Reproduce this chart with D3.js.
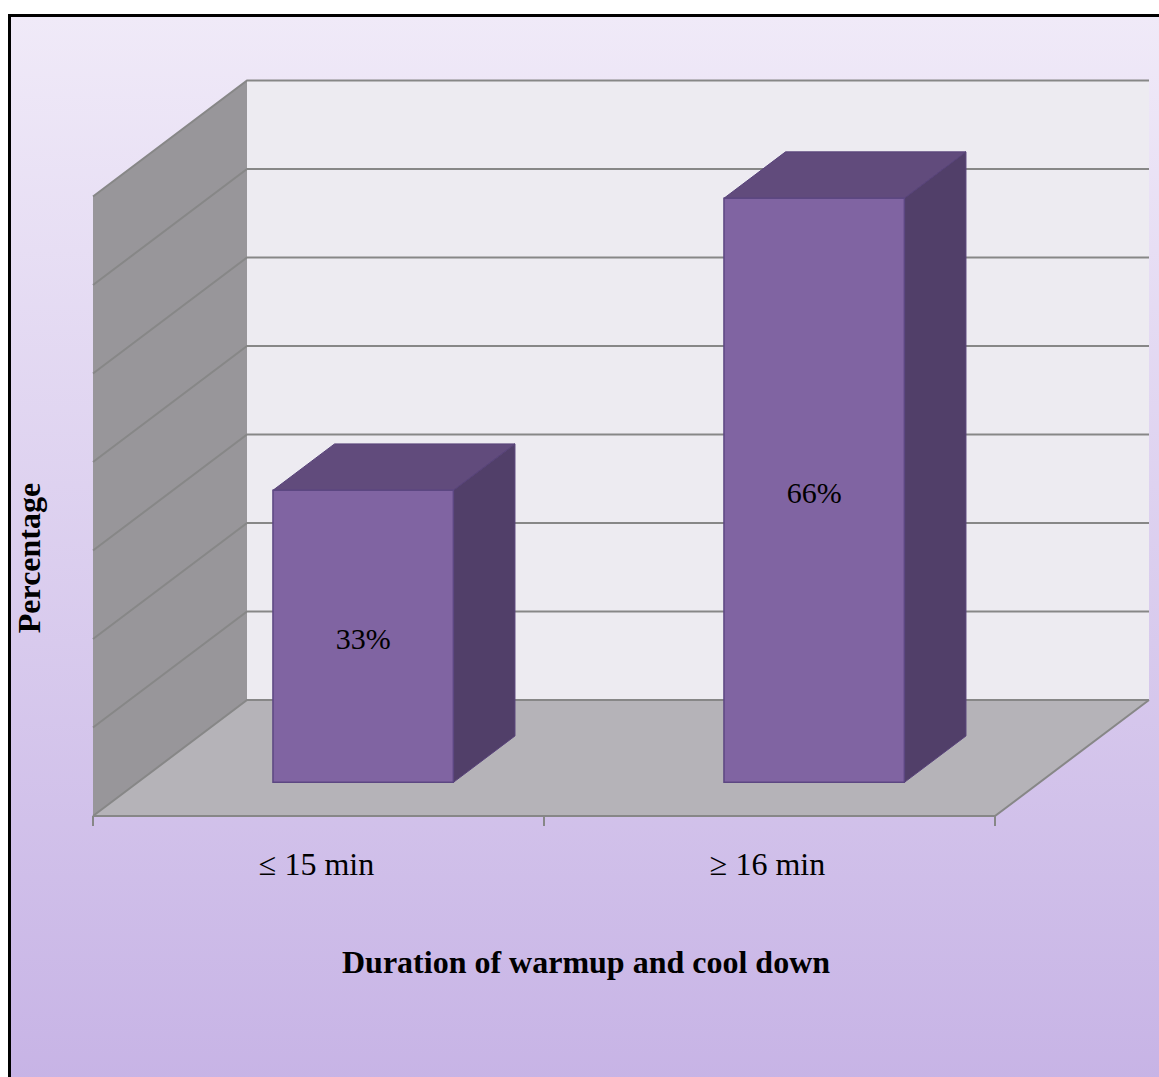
<!DOCTYPE html>
<html>
<head>
<meta charset="utf-8">
<script src="https://cdn.jsdelivr.net/npm/d3@7"></script>
<style>
  html, body { margin: 0; padding: 0; background: #ffffff; }
  svg { display: block; }
</style>
</head>
<body>
<script>
// Chart data
const categories = ["\u2264 15 min", "\u2265 16 min"];
const values = [33, 66];
const valueLabels = ["33%", "66%"];
const valueTicks = [0, 10, 20, 30, 40, 50, 60, 70];
const xTitle = "Duration of warmup and cool down";
const yTitle = "Percentage";

const W = 1159, H = 1077;

// Oblique projection: front plane scales plus a depth vector
const DEPTH = [154, -116];
const x = d3.scaleBand().domain(categories).range([93, 995])
  .paddingInner(0.6).paddingOuter(0.3);
const y = d3.scaleLinear().domain([0, 70]).range([816, 196.5]);
const zFront = 0.29, zBack = 0.69;
const P = (px, v, z) => [px + z * DEPTH[0], y(v) + z * DEPTH[1]];
const poly = pts => "M" + pts.map(p => p.join(",")).join("L") + "Z";

const svg = d3.select("body").append("svg")
  .attr("width", W).attr("height", H);

const defs = svg.append("defs");
const bg = defs.append("linearGradient").attr("id", "bg")
  .attr("x1", 0).attr("y1", 0).attr("x2", 0).attr("y2", 1);
bg.append("stop").attr("offset", 0).attr("stop-color", "#f0eaf8");
bg.append("stop").attr("offset", 1).attr("stop-color", "#c6b2e5");

// Chart area with border
svg.append("rect")
  .attr("x", 9.5).attr("y", 15.5)
  .attr("width", W + 20).attr("height", H + 20)
  .attr("fill", "url(#bg)")
  .attr("stroke", "#000").attr("stroke-width", 3);

const [x0, x1] = x.range();
const vMin = y.domain()[0], vMax = y.domain()[1];

// Back wall
svg.append("path")
  .attr("d", poly([P(x0, vMax, 1), P(x1, vMax, 1), P(x1, vMin, 1), P(x0, vMin, 1)]))
  .attr("fill", "#edebf1");

// Side wall
svg.append("path")
  .attr("d", poly([P(x0, vMax, 1), P(x0, vMin, 1), P(x0, vMin, 0), P(x0, vMax, 0)]))
  .attr("fill", "#98969a");

// Floor
svg.append("path")
  .attr("d", poly([P(x0, vMin, 1), P(x1, vMin, 1), P(x1, vMin, 0), P(x0, vMin, 0)]))
  .attr("fill", "#b5b3b8");

// Gridlines on back wall and side wall
const grid = svg.append("g").attr("stroke", "#878787").attr("stroke-width", 2)
  .attr("fill", "none");
valueTicks.forEach(v => {
  grid.append("path").attr("d", "M" + [P(x0, v, 0), P(x0, v, 1), P(x1, v, 1)].map(p => p.join(",")).join("L"));
});

// Floor edges
grid.append("path").attr("d", "M" + [P(x0, vMin, 0), P(x1, vMin, 0), P(x1, vMin, 1)].map(p => p.join(",")).join("L"));

// Category tick marks between bands
const step = x.step();
const tickXs = d3.range(categories.length + 1).map(i => x0 + i * step);
svg.append("g").selectAll("line").data(tickXs).join("line")
  .attr("x1", d => d).attr("x2", d => d)
  .attr("y1", y(vMin)).attr("y2", y(vMin) + 10)
  .attr("stroke", "#878787").attr("stroke-width", 2);

// Bars
const bars = svg.append("g").selectAll("g").data(values).join("g");
bars.each(function (v, i) {
  const g = d3.select(this);
  const l = x(categories[i]), r = l + x.bandwidth();
  // top face
  g.append("path")
    .attr("d", poly([P(l, v, zFront), P(l, v, zBack), P(r, v, zBack), P(r, v, zFront)]))
    .attr("fill", "#614b7c").attr("stroke", "#58437a").attr("stroke-width", 1);
  // right side face
  g.append("path")
    .attr("d", poly([P(r, v, zFront), P(r, v, zBack), P(r, 0, zBack), P(r, 0, zFront)]))
    .attr("fill", "#513f69").attr("stroke", "#58437a").attr("stroke-width", 1);
  // front face
  g.append("path")
    .attr("d", poly([P(l, v, zFront), P(r, v, zFront), P(r, 0, zFront), P(l, 0, zFront)]))
    .attr("fill", "#8064a2").attr("stroke", "#5c4782").attr("stroke-width", 1.5);
  // value label centred on the front face
  const c = P(l + x.bandwidth() / 2, v / 2, zFront);
  g.append("text")
    .attr("x", c[0]).attr("y", c[1] + 2)
    .attr("dy", "0.35em")
    .attr("text-anchor", "middle")
    .attr("font-family", "'Liberation Serif', 'Times New Roman', serif")
    .attr("font-size", 30)
    .attr("fill", "#000")
    .text(valueLabels[i]);
});

// Category labels
svg.append("g").selectAll("text").data(categories).join("text")
  .attr("x", d => x(d) + x.bandwidth() / 2 - 2)
  .attr("y", 875)
  .attr("text-anchor", "middle")
  .attr("font-family", "'Liberation Serif', 'Times New Roman', serif")
  .attr("font-size", 32)
  .attr("fill", "#000")
  .text(d => d);

// Axis titles
svg.append("text")
  .attr("x", 586).attr("y", 973)
  .attr("text-anchor", "middle")
  .attr("font-family", "'Liberation Serif', 'Times New Roman', serif")
  .attr("font-weight", "bold")
  .attr("font-size", 32)
  .attr("fill", "#000")
  .text(xTitle);

svg.append("text")
  .attr("transform", "translate(40,558) rotate(-90)")
  .attr("text-anchor", "middle")
  .attr("font-family", "'Liberation Serif', 'Times New Roman', serif")
  .attr("font-weight", "bold")
  .attr("font-size", 32)
  .attr("fill", "#000")
  .text(yTitle);
</script>
</body>
</html>
